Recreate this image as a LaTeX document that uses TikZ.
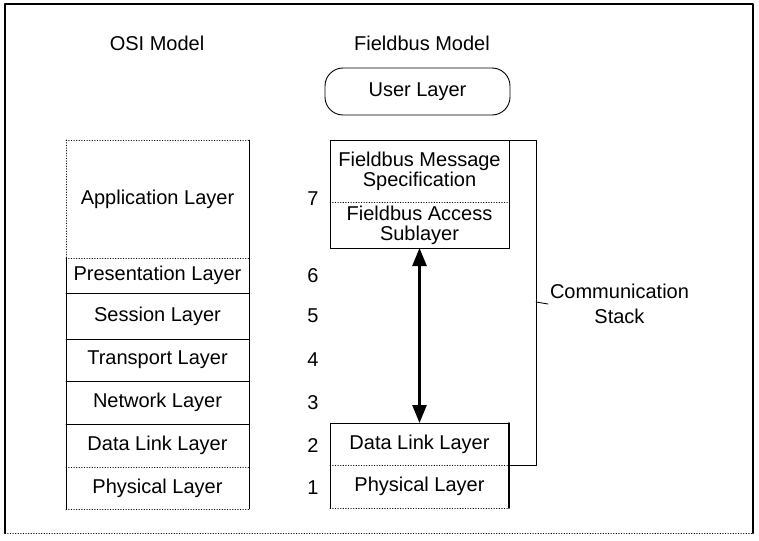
\documentclass[tikz,border=0pt]{standalone}
\usepackage{fontspec}
\setmainfont{Liberation Sans}
\usetikzlibrary{positioning,arrows.meta}
\tikzset{
  txt/.style={inner sep=0pt, outer sep=0pt, font=\fontsize{20}{20}\selectfont},
  layer/.style={txt, minimum width=183pt},
  fbl/.style={txt, minimum width=179pt, align=center},
  sep/.style={dotted, line width=.6pt},
  edge/.style={line width=.9pt}
}
\begin{document}
\begin{tikzpicture}[x=1pt,y=-1pt, line join=round, line cap=round]
  \useasboundingbox (0,0) rectangle (759,540);
  % frame
  \draw[line width=2.6pt] (5,533) -- (5,4) -- (753,4) -- (753,533);
  \draw[sep] (5,533) -- (753,533);
  % titles
  \node[txt] (osi) at (157,43) {OSI Model};
  \node[txt] (fbm) at (422,43) {Fieldbus Model};
  % OSI layers
  \node[layer, minimum height=118pt] (app) at (157.5,199) {Application Layer};
  \node[layer, minimum height=35pt, below=0pt of app] (pres) {Presentation Layer};
  \node[layer, minimum height=46pt, below=0pt of pres] (sess) {Session Layer};
  \node[layer, minimum height=42pt, below=0pt of sess] (trans) {Transport Layer};
  \node[layer, minimum height=43pt, below=0pt of trans] (net) {Network Layer};
  \node[layer, minimum height=43pt, below=0pt of net] (dl) {Data Link Layer};
  \node[layer, minimum height=42pt, below=0pt of dl] (phy) {Physical Layer};
  \draw[sep] (app.north west) -- (app.north east);
  \draw[sep] (app.south west) -- (app.south east);
  \draw[sep] (dl.south west) -- (dl.south east);
  \draw[sep] (phy.south west) -- (phy.south east);
  \foreach \l in {pres,sess,trans,net}
    \draw[edge] (\l.south west) -- (\l.south east);
  \draw[sep] (app.north west) -- (app.south west);
  \draw[edge] (pres.north west) -- (phy.south west);
  \draw[edge] (app.north east) -- (phy.south east);
  % layer numbers
  \foreach \l/\n in {app/7,pres/6,sess/5,trans/4,net/3,dl/2,phy/1}
    \node[txt] (num\n) at (313,0 |- \l) {\n};
  % Fieldbus layers
  \node[txt, draw, edge, rounded corners=18pt, minimum width=185pt, minimum height=47pt] (user) at (417.5,91.5) {User Layer};
  \node[fbl, minimum height=62pt] (fms) at (419.5,171) {Fieldbus Message\\Specification};
  \node[fbl, minimum height=46pt, below=0pt of fms] (fas) {Fieldbus Access\\Sublayer};
  \draw[edge] (fms.north west) rectangle (fas.south east);
  \draw[sep] (fms.south west) -- (fms.south east);
  \node[fbl, minimum height=42pt] (fdl) at (419.5,444) {Data Link Layer};
  \node[fbl, minimum height=43pt, below=0pt of fdl] (fphy) {Physical Layer};
  \draw[edge] (fphy.south west) -- (fdl.north west) -- (fdl.north east);
  \draw[line width=1.6pt] (fdl.north east) -- (fphy.south east);
  \draw[sep] (fdl.south west) -- (fdl.south east);
  \draw[sep] (fphy.south west) -- (fphy.south east);
  % arrow between stacks
  \draw[line width=2.6pt, {Triangle[length=18pt,width=14pt]}-{Triangle[length=18pt,width=14pt]}] (fas.south) -- (fdl.north);
  % communication stack bracket
  \coordinate (brk) at (536,302);
  \draw[edge] (fms.north east) -| (brk) |- (fdl.south east);
  \node[txt, inner sep=2pt, align=center, anchor=west, font=\fontsize{20}{25}\selectfont] (comm) at (548,304) {Communication\\Stack};
  \draw[edge] (brk) -- (comm.west);
\end{tikzpicture}
\end{document}
